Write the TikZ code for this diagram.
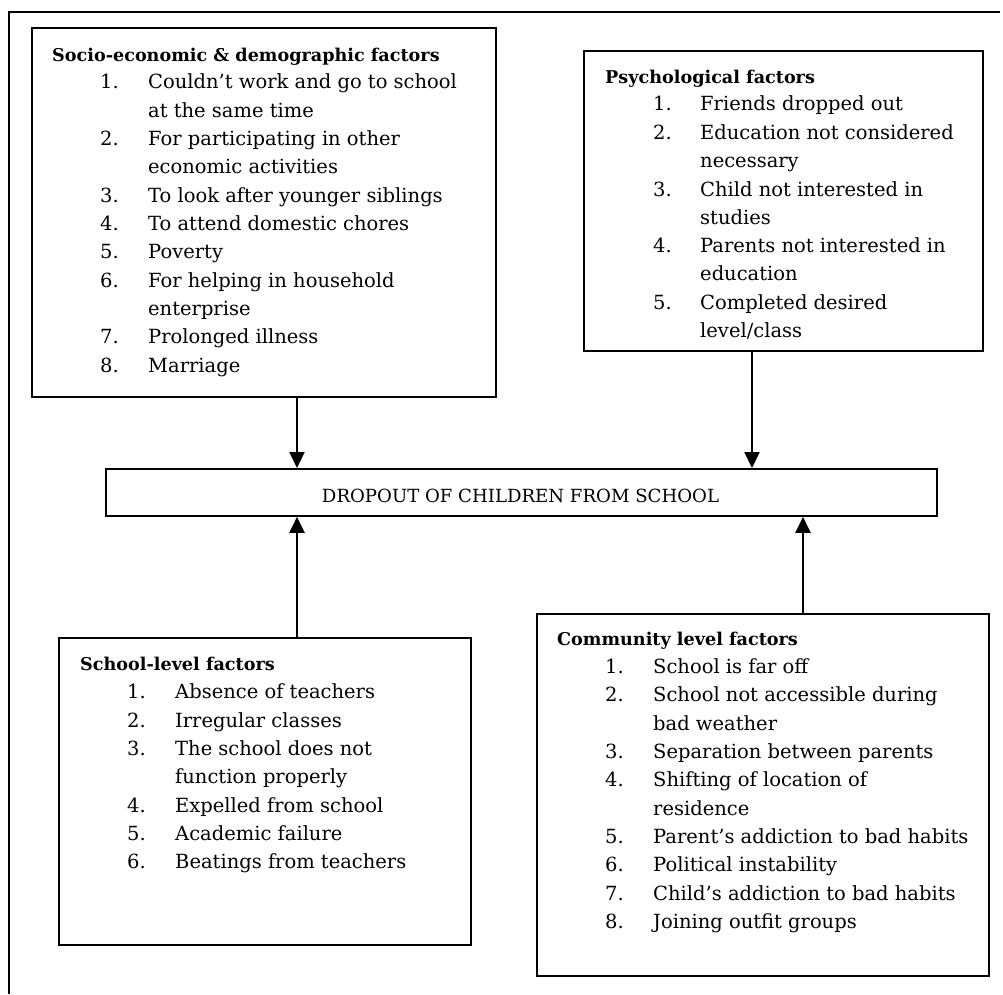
\documentclass[tikz,border=0pt]{standalone}
\usepackage{fontspec}
\setmainfont{DejaVu Serif}
\usetikzlibrary{arrows.meta}
\tikzset{
  box/.style={draw, line width=1.8pt, inner sep=0pt, anchor=north west},
  txt/.style={anchor=base west, inner sep=0pt, font=\fontsize{19.5}{24}\selectfont},
  head/.style={anchor=base west, inner sep=0pt, font=\fontsize{17.6}{24}\selectfont\bfseries},
  arr/.style={line width=2.2pt, -{Triangle[width=15pt,length=16pt]}},
  frame/.style={line width=1.6pt}
}
\begin{document}
\begin{tikzpicture}[x=1pt,y=-1pt]
\useasboundingbox (0,0) rectangle (1003,994);
% outer frame
\coordinate (f1) at (9,994);
\coordinate (f2) at (9,12);
\coordinate (f3) at (1000,12);
\draw[frame] (f1) -- (f2) -- (f3);

% boxes
\node[box, minimum width=464pt, minimum height=369pt] (b1) at (31,27) {};
\node[box, minimum width=399pt, minimum height=300pt] (b2) at (583,50) {};
\node[box, minimum width=831pt, minimum height=47pt] (ctr) at (105,468) {};
\node[box, minimum width=412pt, minimum height=307pt] (b3) at (58,637) {};
\node[box, minimum width=452pt, minimum height=362pt] (b4) at (536,613) {};

\node[anchor=base, inner sep=0pt, font=\fontsize{18.1}{24}\selectfont] (ctrt) at (520.5,502.5) {DROPOUT OF CHILDREN FROM SCHOOL};

% box 1
\node[head] (b1h) at (52,61) {Socio-economic \& demographic factors};
\node[txt] (b1n1) at (100,88) {1.}; \node[txt] (b1t1) at (148,88) {Couldn’t work and go to school};
\node[txt] (b1t1b) at (148,117) {at the same time};
\node[txt] (b1n2) at (100,145) {2.}; \node[txt] (b1t2) at (148,145) {For participating in other};
\node[txt] (b1t2b) at (148,173) {economic activities};
\node[txt] (b1n3) at (100,202) {3.}; \node[txt] (b1t3) at (148,202) {To look after younger siblings};
\node[txt] (b1n4) at (100,230) {4.}; \node[txt] (b1t4) at (148,230) {To attend domestic chores};
\node[txt] (b1n5) at (100,258) {5.}; \node[txt] (b1t5) at (148,258) {Poverty};
\node[txt] (b1n6) at (100,287) {6.}; \node[txt] (b1t6) at (148,287) {For helping in household};
\node[txt] (b1t6b) at (148,315) {enterprise};
\node[txt] (b1n7) at (100,343) {7.}; \node[txt] (b1t7) at (148,343) {Prolonged illness};
\node[txt] (b1n8) at (100,372) {8.}; \node[txt] (b1t8) at (148,372) {Marriage};

% box 2
\node[head] (b2h) at (605,83) {Psychological factors};
\node[txt] (b2n1) at (653,110) {1.}; \node[txt] (b2t1) at (700,110) {Friends dropped out};
\node[txt] (b2n2) at (653,139) {2.}; \node[txt] (b2t2) at (700,139) {Education not considered};
\node[txt] (b2t2b) at (700,167) {necessary};
\node[txt] (b2n3) at (653,196) {3.}; \node[txt] (b2t3) at (700,196) {Child not interested in};
\node[txt] (b2t3b) at (700,224) {studies};
\node[txt] (b2n4) at (653,252) {4.}; \node[txt] (b2t4) at (700,252) {Parents not interested in};
\node[txt] (b2t4b) at (700,280) {education};
\node[txt] (b2n5) at (653,309) {5.}; \node[txt] (b2t5) at (700,309) {Completed desired};
\node[txt] (b2t5b) at (700,337) {level/class};

% box 3
\node[head] (b3h) at (80,670) {School-level factors};
\node[txt] (b3n1) at (127,698) {1.}; \node[txt] (b3t1) at (175,698) {Absence of teachers};
\node[txt] (b3n2) at (127,727) {2.}; \node[txt] (b3t2) at (175,727) {Irregular classes};
\node[txt] (b3n3) at (127,755) {3.}; \node[txt] (b3t3) at (175,755) {The school does not};
\node[txt] (b3t3b) at (175,783) {function properly};
\node[txt] (b3n4) at (127,812) {4.}; \node[txt] (b3t4) at (175,812) {Expelled from school};
\node[txt] (b3n5) at (127,840) {5.}; \node[txt] (b3t5) at (175,840) {Academic failure};
\node[txt] (b3n6) at (127,868) {6.}; \node[txt] (b3t6) at (175,868) {Beatings from teachers};

% box 4
\node[head] (b4h) at (557,645) {Community level factors};
\node[txt] (b4n1) at (605,673) {1.}; \node[txt] (b4t1) at (653,673) {School is far off};
\node[txt] (b4n2) at (605,701) {2.}; \node[txt] (b4t2) at (653,701) {School not accessible during};
\node[txt] (b4t2b) at (653,730) {bad weather};
\node[txt] (b4n3) at (605,758) {3.}; \node[txt] (b4t3) at (653,758) {Separation between parents};
\node[txt] (b4n4) at (605,786) {4.}; \node[txt] (b4t4) at (653,786) {Shifting of location of};
\node[txt] (b4t4b) at (653,815) {residence};
\node[txt] (b4n5) at (605,843) {5.}; \node[txt] (b4t5) at (653,843) {Parent’s addiction to bad habits};
\node[txt] (b4n6) at (605,871) {6.}; \node[txt] (b4t6) at (653,871) {Political instability};
\node[txt] (b4n7) at (605,900) {7.}; \node[txt] (b4t7) at (653,900) {Child’s addiction to bad habits};
\node[txt] (b4n8) at (605,928) {8.}; \node[txt] (b4t8) at (653,928) {Joining outfit groups};

% arrows
\coordinate (xa) at (297,0);
\coordinate (xb) at (752,0);
\coordinate (xc) at (803,0);
\draw[arr] (xa |- b1.south) -- (xa |- ctr.north);
\draw[arr] (xb |- b2.south) -- (xb |- ctr.north);
\draw[arr] (xa |- b3.north) -- (xa |- ctr.south);
\draw[arr] (xc |- b4.north) -- (xc |- ctr.south);
\end{tikzpicture}
\end{document}
